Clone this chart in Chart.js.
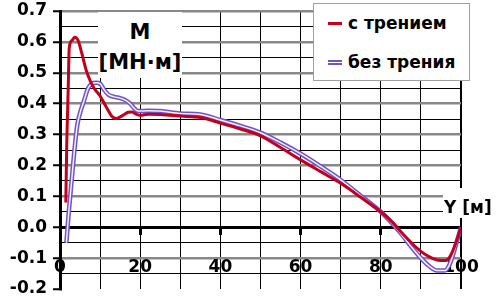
<!DOCTYPE html>
<html>
<head>
<meta charset="utf-8">
<script src="https://cdn.jsdelivr.net/npm/chart.js@4.4.1/dist/chart.umd.min.js"></script>
<style>
html, body { margin: 0; background: #fff; overflow: hidden; }
#wrap { position: relative; width: 496px; height: 299px; }
#momentChart { display: block; }
.note { position: absolute; background: #fff; font: bold 21px "DejaVu Sans", sans-serif; color: #000; }
.line { position: absolute; height: 24px; line-height: 24px; white-space: nowrap; }
#legendBox { position: absolute; left: 313px; top: 3px; width: 157px; height: 78px; box-sizing: border-box; border: 1px solid #a0a0a0; background: #fff; font: bold 17px "DejaVu Sans", sans-serif; }
.sample { position: absolute; left: 14px; width: 14px; }
</style>
</head>
<body>
<div id="wrap">
<canvas id="momentChart" width="496" height="299"></canvas>
<div class="note" style="left:98px; top:12px; width:84px; height:66px;">
  <div class="line" style="left:0; width:84px; top:8px; text-align:center;">M</div>
  <div class="line" style="left:0; width:84px; top:38px; text-align:center;">[МН·м]</div>
</div>
<div class="note" style="left:443px; top:188px; width:53px; height:30px; font-size:17px;">
  <div class="line" style="left:1px; top:7px;">Y [м]</div>
</div>
<div id="legendBox">
  <div class="sample" style="top:18px; border-top:3px solid #c3001c;"></div>
  <div class="line" style="left:34px; top:7px;">с трением</div>
  <div class="sample" style="top:56px; border-top:5px double #7352c8;"></div>
  <div class="line" style="left:34px; top:46px;">без трения</div>
</div>
</div>
<script>
// Y [м] along the beam, M [МН·м]
var posFriction = [1.45, 1.7, 2.05, 2.3, 3.0, 3.7, 4.5, 5.5, 6.5, 7.5, 8.5, 10, 11.5, 13, 14, 15, 16, 17, 18, 19, 20, 22, 25, 30, 35, 40, 45, 50, 55, 60, 65, 70, 75, 80, 83, 85, 88, 90, 92, 94, 96, 97, 98, 99, 100];
var momentFriction = [0.08, 0.28, 0.45, 0.58, 0.605, 0.615, 0.605, 0.56, 0.51, 0.475, 0.45, 0.425, 0.39, 0.358, 0.352, 0.357, 0.365, 0.372, 0.373, 0.366, 0.362, 0.366, 0.365, 0.36, 0.355, 0.337, 0.318, 0.296, 0.258, 0.218, 0.18, 0.142, 0.097, 0.05, 0.015, -0.015, -0.055, -0.078, -0.095, -0.106, -0.108, -0.1, -0.075, -0.04, 0.0];

var posNoFriction = [1.6, 2.2, 2.9, 3.6, 4.3, 5, 6, 7, 8, 9, 10, 11, 12, 13.5, 15, 16.5, 17.5, 18.5, 19.5, 22, 25, 30, 35, 40, 45, 50, 55, 60, 65, 70, 75, 80, 83, 85, 88, 90, 92, 94, 96, 97, 98, 99, 100];
var momentNoFriction = [-0.05, 0.05, 0.15, 0.25, 0.33, 0.37, 0.41, 0.45, 0.465, 0.468, 0.465, 0.445, 0.43, 0.422, 0.418, 0.41, 0.4, 0.385, 0.376, 0.377, 0.376, 0.368, 0.365, 0.347, 0.328, 0.306, 0.274, 0.238, 0.197, 0.153, 0.102, 0.05, 0.01, -0.02, -0.07, -0.1, -0.125, -0.14, -0.14, -0.125, -0.09, -0.045, 0.0];

var xLabels = [0, 20, 40, 60, 80, 100];
var yLabels = ['-0.2', '-0.1', '0.0', '0.1', '0.2', '0.3', '0.4', '0.5', '0.6', '0.7'];

Chart.defaults.font.family = '"DejaVu Sans", sans-serif';
Chart.defaults.font.weight = 'bold';
Chart.defaults.color = '#000';

function toPoints(xs, ys) {
    return xs.map(function (x, i) { return { x: x, y: ys[i] }; });
}

function yLabelFor(value) {
    for (var i = 0; i < yLabels.length; i++) {
        if (Math.abs(Number(yLabels[i]) - value) < 1e-9) return yLabels[i];
    }
    return '';
}

// purple series is drawn twice (wide purple + thin white) to give excel's double line
var datasets = [{
    label: 'с трением',
    data: toPoints(posFriction, momentFriction),
    borderColor: '#c3001c',
    borderWidth: 3,
    order: 0
}, {
    label: 'без трения',
    data: toPoints(posNoFriction, momentNoFriction),
    borderColor: '#f4f0ff',
    borderWidth: 1.5,
    order: 1
}, {
    label: 'без трения',
    data: toPoints(posNoFriction, momentNoFriction),
    borderColor: '#7352c8',
    borderWidth: 4.5,
    order: 2
}];

new Chart(document.getElementById('momentChart'), {
    type: 'line',
    data: { datasets: datasets },
    options: {
        responsive: false,
        animation: false,
        layout: { padding: { left: 0, right: 35, top: 11, bottom: 10 } },
        elements: {
            point: { radius: 0 },
            line: { fill: false, cubicInterpolationMode: 'monotone' }
        },
        plugins: { legend: { display: false }, tooltip: { enabled: false } },
        scales: {
            x: {
                type: 'linear',
                position: { y: 0 },
                min: 0,
                max: 100,
                afterFit: function (s) { s.paddingLeft = 0; s.paddingRight = 0; s.paddingTop = 0; s.paddingBottom = 0; },
                border: { color: '#000', width: 3 },
                grid: {
                    color: '#000',
                    lineWidth: function (c) { return c.tick && c.tick.value === 100 ? 2 : 1; },
                    tickLength: 6,
                    tickWidth: 3,
                    tickColor: function (c) {
                        var v = c.tick ? c.tick.value : 0;
                        return (v > 0 && v < 100 && xLabels.indexOf(v) >= 0) ? '#000' : 'rgba(0,0,0,0)';
                    }
                },
                ticks: {
                    stepSize: 10,
                    autoSkip: false,
                    maxRotation: 0,
                    padding: 24,
                    font: { size: 17, weight: 'bold' },
                    callback: function (v) { return xLabels.indexOf(v) >= 0 ? String(v) : ''; }
                }
            },
            y: {
                min: -0.2,
                max: 0.7,
                afterFit: function (s) { s.width = 60; s.paddingTop = 0; s.paddingBottom = 0; },
                border: { color: '#000', width: 3 },
                grid: {
                    color: function (c) {
                        var v = c.tick ? c.tick.value : 0;
                        if (Math.abs(v + 0.2) < 1e-9) return 'rgba(0,0,0,0)';
                        return yLabelFor(v) ? '#888' : '#000';
                    },
                    lineWidth: function (c) { return c.tick && yLabelFor(c.tick.value) ? 2.5 : 1; },
                    tickLength: 7,
                    tickWidth: 2,
                    tickColor: function (c) { return c.tick && yLabelFor(c.tick.value) ? '#000' : 'rgba(0,0,0,0)'; }
                },
                ticks: {
                    stepSize: 0.05,
                    autoSkip: false,
                    padding: 6,
                    font: { size: 17, weight: 'bold' },
                    callback: function (v) { return yLabelFor(v); }
                }
            }
        }
    }
});
</script>
</body>
</html>
